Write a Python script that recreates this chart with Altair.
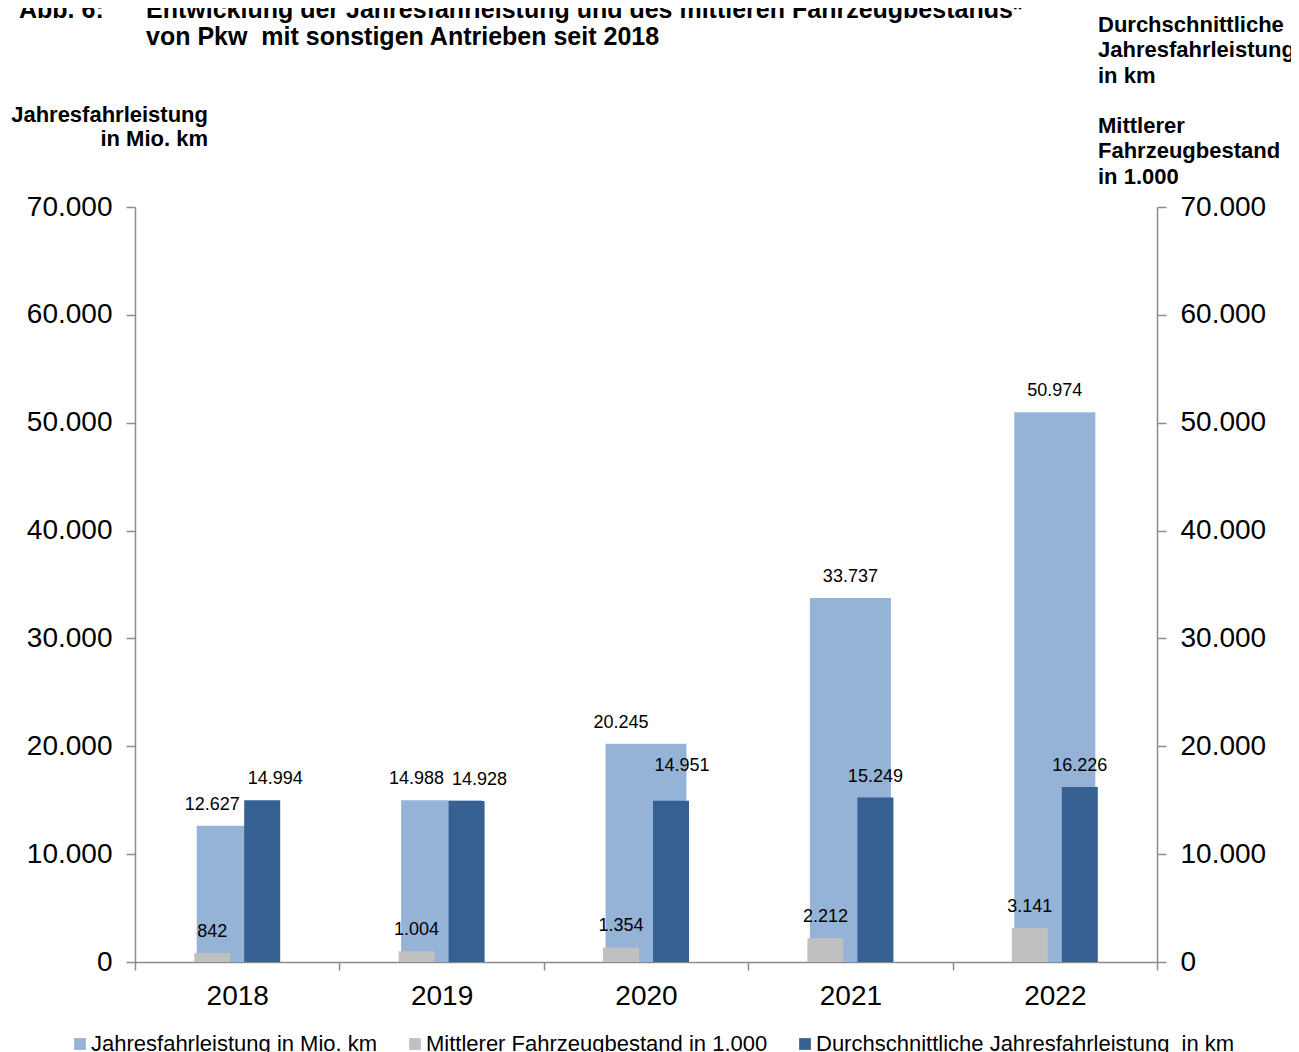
import altair as alt
import pandas as pd

years = ["2018", "2019", "2020", "2021", "2022"]
jahresfahrleistung = [12627, 14988, 20245, 33737, 50974]
fahrzeugbestand = [842, 1004, 1354, 2212, 3141]
durchschnitt = [14994, 14928, 14951, 15249, 16226]

series_names = [
    "Jahresfahrleistung in Mio. km",
    "Mittlerer Fahrzeugbestand in 1.000",
    "Durchschnittliche Jahresfahrleistung\u00a0 in km",
]
series_colors = ["#95B3D7", "#C0C0C0", "#376092"]
y_ticks = [0, 10000, 20000, 30000, 40000, 50000, 60000, 70000]

title_lines = [
    "Entwicklung der Jahresfahrleistung und des mittleren Fahrzeugbestands*",
    "von Pkw \u00a0mit sonstigen Antrieben seit 2018",
]
left_title = ["Jahresfahrleistung", "in Mio. km"]
right_title_1 = ["Durchschnittliche", "Jahresfahrleistung", "in km"]
right_title_2 = ["Mittlerer", "Fahrzeugbestand", "in 1.000"]

FONT = "Liberation Sans"
AX = "#8c8c8c"
fmt = "replace(format(datum.value, ','), ',', '.')"

df = pd.DataFrame({"year": years, "jfl": jahresfahrleistung,
                   "bestand": fahrzeugbestand, "avg": durchschnitt})
base = alt.Chart(df)

xenc = alt.X("year:O",
             scale=alt.Scale(paddingInner=0, paddingOuter=0),
             axis=alt.Axis(title=None, labelAngle=0, tickBand="extent",
                           domainColor=AX, domainWidth=1.5, tickColor=AX,
                           tickWidth=1.5, tickSize=8, labelPadding=12,
                           labelFont=FONT, labelFontSize=28, labelColor="black"))
yscale = alt.Scale(domain=[0, 70000], nice=False, zero=True)
color_scale = alt.Scale(domain=series_names, range=series_colors)
legend = alt.Legend(orient="none", legendX=-66, legendY=826, direction="horizontal",
                    title=None, symbolType="square", symbolSize=137,
                    symbolStrokeWidth=0, labelFont=FONT, labelFontSize=22,
                    labelColor="black", labelLimit=600, columnPadding=26,
                    labelOffset=0, padding=0)


def yaxis(orient):
    return alt.Axis(orient=orient, values=y_ticks, labelExpr=fmt, title=None,
                    grid=False, domainColor=AX, domainWidth=1.5, tickColor=AX,
                    tickWidth=1.5, tickSize=9, labelPadding=14, labelFont=FONT,
                    labelFontSize=28, labelColor="black")


def bars(field, name, size, xoff, axis):
    return base.transform_calculate(series=f"'{name}'").mark_bar(
        size=size, xOffset=xoff).encode(
        x=xenc,
        y=alt.Y(f"{field}:Q", scale=yscale, axis=axis),
        color=alt.Color("series:N", scale=color_scale, legend=legend),
    )


def labels(field, yrs, dx, dy):
    return base.transform_filter(
        alt.FieldOneOfPredicate(field="year", oneOf=yrs)
    ).transform_calculate(
        lbl=f"replace(format(datum.{field}, ','), ',', '.')"
    ).mark_text(dx=dx, dy=dy, baseline="alphabetic", font=FONT, fontSize=18,
                color="black").encode(
        x=xenc,
        y=alt.Y(f"{field}:Q", scale=yscale, axis=None),
        text="lbl:N",
    )


def note(lines, x, y, align, size, line_height, bold=True):
    return alt.Chart(pd.DataFrame({"a": [0]})).mark_text(
        text=lines, align=align, baseline="alphabetic", font=FONT,
        fontSize=size, fontWeight="bold" if bold else "normal",
        lineHeight=line_height, color="black").encode(
        x=alt.value(x), y=alt.value(y))


layers = [
    bars("jfl", series_names[0], 81, 0, yaxis("left")),
    bars("bestand", series_names[1], 36, -25, yaxis("right")),
    bars("avg", series_names[2], 36, 25, None),
    labels("jfl", ["2018", "2019", "2020"], -25, -16),
    labels("jfl", ["2021", "2022"], 0, -16),
    labels("bestand", years, -25, -16),
    labels("avg", ["2018", "2019"], 38, -16),
    labels("avg", ["2020"], 36, -30),
    labels("avg", ["2021", "2022"], 25, -16),
    note(["Abb. 6:"], -116, -189, "left", 25, 27),
    note(title_lines, 11, -189, "left", 25, 27),
    note(left_title, 73, -85, "right", 22, 24),
    note(right_title_1, 963, -175, "left", 22, 25.4),
    note(right_title_2, 963, -74, "left", 22, 25.4),
]

chart = alt.layer(*layers).resolve_axis(y="independent").properties(
    width=1022, height=755,
    background="white",
    autosize=alt.AutoSizeParams(type="none"),
    padding={"left": 127, "top": 199, "right": 134, "bottom": 90},
).configure_view(stroke=None)

chart.save("out.html", embed_options={"renderer": "svg", "actions": False})
